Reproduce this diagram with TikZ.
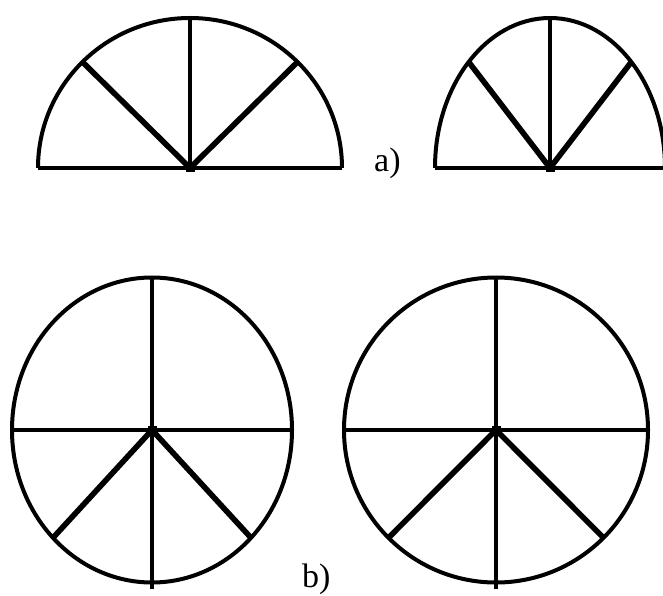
\documentclass[tikz,border=0pt]{standalone}
\usepackage{fontspec}
\setmainfont{Liberation Serif}
\begin{document}
\begin{tikzpicture}[x=1pt,y=1pt,
  rim/.style={line width=4pt},
  base/.style={line width=4.6pt},
  vert/.style={line width=3.6pt},
  diag/.style={line width=5.6pt},
  hub/.style={fill=black,minimum size=9pt,inner sep=0pt,draw=none,rectangle},
  lbl/.style={font=\fontsize{34}{34}\selectfont,anchor=base west,inner sep=0pt}]
\useasboundingbox (0,0) rectangle (663,595);
% ---------- a) left half ellipse
\node[hub] (c1) at (190,427) {};
\coordinate (l1) at (38,427);
\coordinate (r1) at (342,427);
\coordinate (t1) at (190,577);
\coordinate (d1a) at (82.5,533);
\coordinate (d1b) at (297.5,533);
\draw[rim] (r1) arc[start angle=0,end angle=180,x radius=152,y radius=150];
\draw[base] (l1) -- (r1);
\draw[vert] (c1.center) -- (t1);
\draw[diag] (c1.center) -- (d1a);
\draw[diag] (c1.center) -- (d1b);
% ---------- a) right half ellipse
\node[hub] (c2) at (550,427) {};
\coordinate (l2) at (435,427);
\coordinate (r2) at (665,427);
\coordinate (t2) at (550,577);
\coordinate (d2a) at (468.7,533);
\coordinate (d2b) at (631.3,533);
\draw[rim] (r2) arc[start angle=0,end angle=180,x radius=115,y radius=150];
\draw[base] (l2) -- (r2);
\draw[vert] (c2.center) -- (t2);
\draw[diag] (c2.center) -- (d2a);
\draw[diag] (c2.center) -- (d2b);
\node[lbl] (la) at (374,423) {a)};
% ---------- b) left ellipse
\node[hub] (c3) at (152,165) {};
\coordinate (l3) at (12,165);
\coordinate (r3) at (292,165);
\coordinate (t3) at (152,317.5);
\coordinate (b3) at (152,6);
\coordinate (d3a) at (53,57.2);
\coordinate (d3b) at (251,57.2);
\draw[rim] (c3.center) ellipse[x radius=140,y radius=152.5];
\draw[base] (l3) -- (r3);
\draw[vert] (t3) -- (b3);
\draw[diag] (c3.center) -- (d3a);
\draw[diag] (c3.center) -- (d3b);
% ---------- b) right ellipse
\node[hub] (c4) at (496,165) {};
\coordinate (l4) at (343,165);
\coordinate (r4) at (649,165);
\coordinate (t4) at (496,317.5);
\coordinate (b4) at (496,6);
\coordinate (d4a) at (388.5,57.2);
\coordinate (d4b) at (603.5,57.2);
\draw[rim] (c4.center) ellipse[x radius=152,y radius=152.5];
\draw[base] (l4) -- (r4);
\draw[vert] (t4) -- (b4);
\draw[diag] (c4.center) -- (d4a);
\draw[diag] (c4.center) -- (d4b);
\node[lbl] (lb) at (302,8) {b)};
\end{tikzpicture}
\end{document}
